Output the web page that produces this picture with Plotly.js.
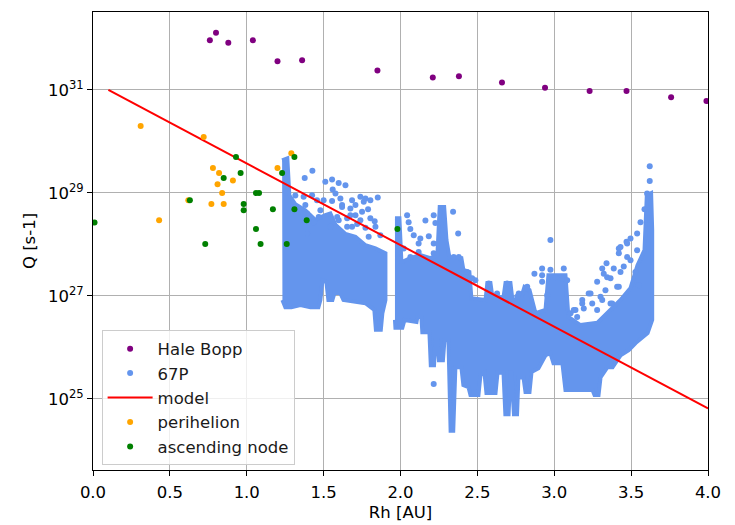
<!DOCTYPE html>
<html>
<head>
<meta charset="utf-8">
<script src="https://cdn.plot.ly/plotly-3.0.1.min.js"></script>
<style>html,body{margin:0;padding:0;background:#fff;}#chart{width:735px;height:525px;}</style>
</head>
<body>
<div id="chart"></div>
<script>
// ---------------- data ----------------
const haleBoppRh = [0.76, 0.80, 0.88, 1.04, 1.20, 1.36, 1.85, 2.21, 2.38, 2.66, 2.94, 3.23, 3.47, 3.76, 3.99];
const haleBoppQ  = [9.2e31, 1.30e32, 8.3e31, 9.2e31, 3.6e31, 3.8e31, 2.4e31, 1.74e31, 1.85e31, 1.39e31, 1.11e31, 9.6e30, 9.6e30, 7.2e30, 6.1e30];

// 67P: dense core outlines (top edge and bottom edge, left to right), two segments
const p67Seg1TopRh = [1.230, 1.264, 1.277, 1.316, 1.381, 1.446, 1.511, 1.544, 1.577, 1.642, 1.707, 1.772, 1.837, 1.902];
const p67Seg1TopQ  = [4.3e29, 4.7e29, 9.0e28, 6.0e28, 4.6e28, 3.0e28, 3.7e28, 4.0e28, 2.4e28, 1.6e28, 1.4e28, 9.6e27, 8.4e27, 6.7e27];
const p67Seg1BotRh = [1.232, 1.251, 1.290, 1.349, 1.414, 1.466, 1.479, 1.492, 1.518, 1.531, 1.557, 1.570, 1.609, 1.629, 1.772, 1.830, 1.840, 1.872, 1.882, 1.902];
const p67Seg1BotQ  = [8.3e26, 6.0e26, 6.0e26, 6.6e26, 6.0e26, 6.0e26, 8.3e26, 2.0e27, 1.85e27, 8.3e26, 8.3e26, 1.13e27, 1.13e27, 8.3e26, 7.2e26, 5.3e26, 2.2e26, 2.2e26, 4.6e26, 8.3e26];

const p67Seg2TopRh = [1.964, 1.993, 2.006, 2.064, 2.129, 2.194, 2.240, 2.255, 2.284, 2.299, 2.318, 2.396, 2.409, 2.448, 2.461, 2.553, 2.565, 2.585, 2.598, 2.670, 2.683, 2.715, 2.728, 2.780, 2.806, 2.839, 2.878, 2.943, 2.962, 3.073, 3.092, 3.170, 3.281, 3.366, 3.431, 3.496, 3.541, 3.587, 3.602, 3.630, 3.637];
const p67Seg2TopQ  = [3.2e28, 3.2e28, 4.5e27, 5.4e27, 6.2e27, 5.4e27, 6.2e27, 5.3e28, 5.3e28, 1.21e28, 5.6e27, 5.4e27, 3.2e27, 2.9e27, 9.0e26, 8.3e26, 1.77e27, 1.77e27, 9.4e26, 9.4e26, 1.77e27, 1.77e27, 8.3e26, 8.3e26, 1.48e27, 1.29e27, 4.6e26, 5.3e26, 2.5e27, 2.5e27, 3.9e26, 2.7e26, 3.0e26, 5.3e26, 8.3e26, 1.41e27, 3.9e27, 7.7e27, 9.0e28, 9.9e28, 1.89e28];
const p67Seg2BotRh = [1.964, 1.967, 2.012, 2.026, 2.104, 2.110, 2.136, 2.142, 2.188, 2.197, 2.218, 2.227, 2.240, 2.250, 2.276, 2.286, 2.312, 2.326, 2.343, 2.357, 2.396, 2.409, 2.442, 2.455, 2.507, 2.520, 2.546, 2.559, 2.618, 2.631, 2.670, 2.682, 2.703, 2.715, 2.722, 2.738, 2.758, 2.767, 2.800, 2.813, 2.839, 2.852, 2.897, 2.943, 2.975, 2.995, 3.053, 3.073, 3.249, 3.262, 3.288, 3.301, 3.346, 3.379, 3.431, 3.484, 3.529, 3.607, 3.637];
const p67Seg2BotQ  = [3.4e26, 2.4e26, 2.4e26, 3.4e26, 3.1e26, 3.9e26, 3.9e26, 1.97e26, 1.97e26, 4.5e25, 4.5e25, 1.38e26, 1.38e26, 5.6e25, 5.6e25, 1.38e26, 1.38e26, 2.4e24, 2.4e24, 4.1e25, 4.1e25, 1.85e25, 1.69e25, 1.18e25, 1.18e25, 2.9e25, 3.2e25, 1.29e25, 1.29e25, 3.2e25, 3.2e25, 5.0e24, 5.0e24, 3.2e25, 3.2e25, 5.0e24, 5.0e24, 2.6e25, 2.6e25, 1.35e25, 1.35e25, 3.3e25, 3.9e25, 7.0e25, 7.7e25, 4.9e25, 4.9e25, 1.48e25, 1.48e25, 1.18e25, 1.18e25, 2.6e25, 4.1e25, 4.1e25, 7.0e25, 8.8e25, 1.21e26, 1.89e26, 3.4e26];

// 67P: sparse individual points outside the dense core
const p67Rh = [1.377, 1.427, 1.511, 1.555, 1.598, 1.642, 1.559, 1.316, 1.370, 1.425, 1.500, 1.555, 1.609, 1.685, 1.739, 1.804, 1.852, 1.761, 1.674, 1.620, 1.789, 1.707, 1.739, 1.832, 1.772, 1.653, 1.685, 1.588, 1.479, 1.435, 1.392,
  1.381, 1.457, 1.392, 1.468, 1.577, 1.620, 1.674, 1.707, 1.772, 1.750, 1.804, 1.837, 1.718, 1.653, 1.598, 1.544, 1.793, 1.869,
  2.043, 2.053, 2.162, 2.216, 2.227, 2.342, 2.375, 2.064, 2.086, 2.129, 2.184, 2.216, 2.118, 2.346, 2.379, 2.433, 2.487, 2.574, 2.694, 2.628, 2.759, 2.824, 2.216,
  2.021, 2.118, 2.216, 2.064, 2.151, 2.466, 2.769,
  2.975, 2.871, 2.921, 2.921, 2.975, 3.062, 3.008, 3.051, 3.084, 2.921, 2.824, 2.954, 3.312, 3.340, 3.387, 3.420, 3.470, 3.496, 3.539, 3.561, 3.587, 3.604, 3.621, 3.621, 3.279, 3.344, 3.431, 3.474, 3.539, 3.236, 3.182, 3.138, 3.106, 3.301, 3.366, 3.409,
  3.127, 3.149, 3.182, 3.192, 3.224, 3.247, 3.279, 3.312, 3.333, 3.322, 3.366, 3.377, 3.420, 3.420, 3.431, 3.474, 3.496, 3.528, 3.550, 3.452];
const p67Q  = [1.95e29, 2.7e29, 1.64e29, 1.82e29, 1.56e29, 1.41e29, 1.16e29, 8.9e28, 8.4e28, 9.0e28, 7.2e28, 7.0e28, 7.8e28, 7.2e28, 8.4e28, 7.2e28, 8.1e28, 6.7e28, 5.0e28, 5.3e28, 4.8e28, 3.7e28, 2.95e28, 2.8e28, 2.1e28, 3.2e28, 2.2e28, 3.4e28, 4.6e28, 2.7e28, 1.63e28,
  5.8e28, 7.2e28, 4.0e28, 3.4e28, 9.7e28, 5.8e28, 3.7e28, 5.8e28, 7.8e28, 4.3e28, 3.2e28, 2.2e28, 2.5e28, 2.2e28, 2.95e28, 2.2e28, 1.40e28, 1.51e28,
  3.7e28, 2.7e28, 2.9e28, 3.7e28, 2.6e28, 4.3e28, 1.63e28, 2.0e28, 1.51e28, 1.30e28, 1.44e28, 1.04e28, 7.1e27, 5.7e27, 5.7e27, 2.9e27, 2.0e27, 1.74e27, 1.74e27, 1.11e27, 9.6e26, 1.39e27, 1.93e25,
  8.3e27, 1.04e28, 6.7e27, 5.7e27, 4.9e27, 2.2e27, 1.11e27,
  1.21e28, 2.7e27, 3.4e27, 2.5e27, 3.2e27, 3.4e27, 2.3e27, 2.2e27, 2.0e27, 1.87e27, 1.5e27, 1.03e27, 3.4e27, 4.3e27, 3.4e27, 8.3e27, 1.12e28, 1.30e28, 1.63e28, 2.7e28, 4.8e28, 9.7e28, 1.71e29, 3.3e29, 1.87e27, 2.3e27, 2.9e27, 5.7e27, 7.7e27, 1.11e27, 7.1e26, 5.3e26, 4.6e26, 9.6e26, 7.1e26, 1.5e27,
  5.3e26, 3.9e26, 8.3e26, 5.7e26, 1.11e27, 7.1e26, 5.3e26, 8.3e26, 1.29e27, 2.7e27, 2.2e27, 7.1e26, 1.5e27, 6.7e27, 8.9e27, 1.04e28, 4.9e27, 2.9e27, 1.61e27, 3.7e27];

const modelRh = [0.1, 4.0];
const modelQ  = [1.0e31, 6.5e24];

const perihelionRh = [0.31, 0.72, 0.78, 0.82, 0.81, 0.91, 0.84, 0.77, 0.85, 0.62, 0.43, 1.20, 1.29];
const perihelionQ  = [2.0e30, 1.22e30, 3.05e29, 2.44e29, 1.48e29, 1.74e29, 1.0e29, 6.1e28, 6.1e28, 7.2e28, 2.95e28, 3.05e29, 5.9e29];

const ascNodeRh = [0.01, 0.63, 0.73, 0.85, 0.93, 0.96, 0.98, 0.98, 1.06, 1.08, 1.06, 1.09, 1.17, 1.23, 1.31, 1.31, 1.39, 1.26, 1.98];
const ascNodeQ  = [2.66e28, 7.2e28, 1.02e28, 1.95e29, 5.0e29, 2.44e29, 6.1e28, 4.6e28, 1.0e29, 1.0e29, 2.0e28, 1.02e28, 4.8e28, 2.44e29, 5.0e29, 4.8e28, 2.95e28, 1.02e28, 2.0e28];

const xTickVals = [0, 0.5, 1.0, 1.5, 2.0, 2.5, 3.0, 3.5, 4.0];
const xTickText = ['0.0', '0.5', '1.0', '1.5', '2.0', '2.5', '3.0', '3.5', '4.0'];
const yTickVals = [1e25, 1e27, 1e29, 1e31];
const yTickText = ['10<sup>25</sup>', '10<sup>27</sup>', '10<sup>29</sup>', '10<sup>31</sup>'];

// ---------------- chart ----------------
const C67 = '#6495ED';
function outline(topX, topY, botX, botY) {
  return {
    x: topX.concat(botX.slice().reverse()),
    y: topY.concat(botY.slice().reverse())
  };
}
const s1 = outline(p67Seg1TopRh, p67Seg1TopQ, p67Seg1BotRh, p67Seg1BotQ);
const s2 = outline(p67Seg2TopRh, p67Seg2TopQ, p67Seg2BotRh, p67Seg2BotQ);

const mk = 6;
const FS = 16.5;
const traces = [
  {x: haleBoppRh, y: haleBoppQ, type: 'scatter', mode: 'markers', name: 'Hale Bopp',
   legendgroup: 'hb', marker: {color: '#800080', size: mk}},
  {x: s1.x, y: s1.y, type: 'scatter', mode: 'lines', fill: 'toself', fillcolor: C67,
   line: {color: C67, width: 4, shape: 'linear'}, showlegend: false, legendgroup: 'p67', hoverinfo: 'skip'},
  {x: s2.x, y: s2.y, type: 'scatter', mode: 'lines', fill: 'toself', fillcolor: C67,
   line: {color: C67, width: 4, shape: 'linear'}, showlegend: false, legendgroup: 'p67', hoverinfo: 'skip'},
  {x: p67Rh, y: p67Q, type: 'scatter', mode: 'markers', name: '67P',
   legendgroup: 'p67', marker: {color: C67, size: mk}},
  {x: modelRh, y: modelQ, type: 'scatter', mode: 'lines', name: 'model',
   legendgroup: 'model', line: {color: '#ff0000', width: 2}},
  {x: perihelionRh, y: perihelionQ, type: 'scatter', mode: 'markers', name: 'perihelion',
   legendgroup: 'peri', marker: {color: '#FFA500', size: mk}},
  {x: ascNodeRh, y: ascNodeQ, type: 'scatter', mode: 'markers', name: 'ascending node',
   legendgroup: 'asc', marker: {color: '#008000', size: mk}}
];

const axisCommon = {
  showgrid: true, gridcolor: '#b0b0b0', gridwidth: 1,
  showline: true, mirror: true, linecolor: '#000', linewidth: 1,
  ticks: 'outside', ticklen: 5, tickwidth: 1, tickcolor: '#000',
  zeroline: false, tickfont: {size: FS, color: '#000'}
};

const layout = {
  width: 735, height: 525,
  margin: {l: 93, r: 27, t: 12, b: 55},
  paper_bgcolor: '#fff', plot_bgcolor: '#fff',
  font: {family: 'DejaVu Sans, sans-serif', size: FS, color: '#000'},
  showlegend: true,
  legend: {
    x: 0.014, y: 0.01, xanchor: 'left', yanchor: 'bottom',
    bgcolor: 'rgba(255,255,255,0.8)', bordercolor: '#cccccc', borderwidth: 1,
    font: {size: FS, color: '#1a1a1a'}, tracegroupgap: 5, traceorder: 'normal',
    itemwidth: 45
  },
  xaxis: Object.assign({}, axisCommon, {
    range: [0, 4], tickmode: 'array', tickvals: xTickVals, ticktext: xTickText,
    ticklabelstandoff: 2,
    title: {text: 'Rh [AU]', font: {size: FS, color: '#000'}, standoff: 5}
  }),
  yaxis: Object.assign({}, axisCommon, {
    type: 'log', range: [23.616, 32.515], tickmode: 'array', tickvals: yTickVals, ticktext: yTickText,
    title: {text: 'Q [s-1]', font: {size: FS, color: '#000'}, standoff: 8}
  })
};

Plotly.newPlot('chart', traces, layout, {displayModeBar: false, staticPlot: true});
</script>
</body>
</html>
